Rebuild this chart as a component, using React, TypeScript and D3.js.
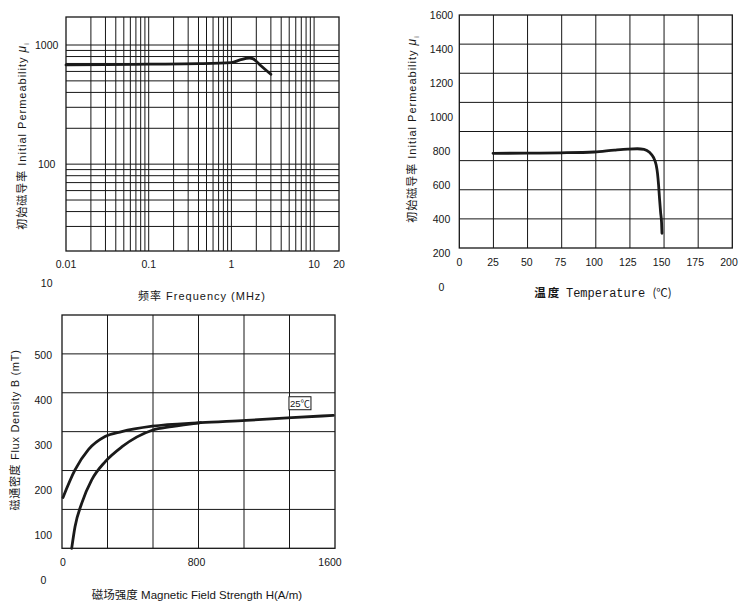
import { curveMonotoneX, line as d3Line, range, scaleLinear, scaleLog, select } from "d3";
import { useEffect, useRef } from "react";

// chart 1: initial permeability vs frequency
const freqMHz = [0.01, 0.03, 0.1, 0.4, 1.0, 1.27, 1.65, 1.84, 2.22, 3.0];
const freqPerm = [680, 684, 690, 697, 712, 749, 778, 765, 680, 568];
const freqTicks = [0.01, 0.1, 1, 10, 20];
const freqPermTicks = [10, 100, 1000];

// chart 2: initial permeability vs temperature
const tempC = [25, 50, 75, 100, 115, 125, 132, 137, 141, 144, 146, 147, 147.8, 148.5, 149.3, 150, 150.3];
const tempPerm = [789, 790, 792, 797, 808, 814, 816, 812, 795, 765, 720, 670, 600, 520, 440, 380, 318];
const tempTicks = [0, 25, 50, 75, 100, 125, 150, 175, 200];
const tempPermTicks = [0, 200, 400, 600, 800, 1000, 1200, 1400, 1600];

// chart 3: B-H curves at 25 C
const fieldUpper = [0, 72, 152, 252, 352, 535, 825, 1097, 1370, 1620];
const fluxUpper = [184, 245, 290, 319, 330, 342, 350, 355, 361, 366];
const fieldLower = [52, 72, 112, 172, 252, 352, 535, 651, 825];
const fluxLower = [71, 119, 171, 223, 263, 296, 333, 341, 350];
const fieldTicks = [0, 800, 1600];
const fluxTicks = [0, 100, 200, 300, 400, 500];

const TICK_FONT = "'Liberation Sans', Arial, sans-serif";
const TITLE_FONT = "'Liberation Sans', Arial, 'Noto Sans CJK SC', sans-serif";
const INK = "#161616";

export default function App() {
  const svgRef = useRef<SVGSVGElement | null>(null);

  useEffect(() => {
    if (!svgRef.current) return;
    const svg = select(svgRef.current);
    svg.selectAll("*").remove();
    svg.append("rect").attr("width", 743).attr("height", 611).attr("fill", "#fff");

    const gridLine = (x1: number, y1: number, x2: number, y2: number) =>
      svg
        .append("line")
        .attr("x1", x1)
        .attr("y1", y1)
        .attr("x2", x2)
        .attr("y2", y2)
        .attr("stroke", INK)
        .attr("stroke-width", 1);

    const frame = (x0: number, y0: number, x1: number, y1: number) =>
      svg
        .append("rect")
        .attr("x", x0)
        .attr("y", y0)
        .attr("width", x1 - x0)
        .attr("height", y1 - y0)
        .attr("fill", "none")
        .attr("stroke", INK)
        .attr("stroke-width", 1.3);

    const tickText = (x: number, y: number, label: string) =>
      svg
        .append("text")
        .attr("x", x)
        .attr("y", y)
        .attr("dy", "0.35em")
        .attr("text-anchor", "middle")
        .attr("font-family", TICK_FONT)
        .attr("font-size", 10.5)
        .attr("fill", INK)
        .text(label);

    const curve = (xs: number[], ys: number[], sx: (v: number) => number, sy: (v: number) => number) => {
      const pts = xs.map((x, i) => [sx(x), sy(ys[i])] as [number, number]);
      svg
        .append("path")
        .attr("d", d3Line().curve(curveMonotoneX)(pts))
        .attr("fill", "none")
        .attr("stroke", "#1a1a1a")
        .attr("stroke-width", 2.8)
        .attr("stroke-linecap", "round")
        .attr("stroke-linejoin", "round");
    };

    const yTitle = (cx: number, cy: number, spacing: number) =>
      svg
        .append("text")
        .attr("transform", `translate(${cx},${cy}) rotate(-90)`)
        .attr("text-anchor", "middle")
        .attr("dy", "0.35em")
        .attr("font-family", TITLE_FONT)
        .attr("font-size", 11)
        .attr("letter-spacing", spacing)
        .attr("fill", INK);

    // ---------- chart 1 ----------
    const x1 = scaleLog().domain([0.01, 20]).range([66, 339]);
    const y1 = scaleLog().domain([10, 1000]).range([283.3, 45]);
    const box1 = { left: 66, right: 339, top: 17, bottom: 251 };
    x1.ticks().forEach((v) => {
      const px = x1(v);
      if (px > box1.left + 0.5 && px < box1.right - 0.5) gridLine(px, box1.top, px, box1.bottom);
    });
    y1.ticks().forEach((v) => {
      const py = y1(v);
      if (py > box1.top + 6 && py < box1.bottom - 6) gridLine(box1.left, py, box1.right, py);
    });
    frame(box1.left, box1.top, box1.right, box1.bottom);
    freqTicks.forEach((v) => tickText(x1(v), 264, String(v)));
    freqPermTicks.forEach((v) => tickText(46.7, y1(v), String(v)));
    curve(freqMHz, freqPerm, x1, y1);

    const t1 = yTitle(22, 136, 1);
    t1.append("tspan").text("初始磁导率 Initial Permeability ");
    t1.append("tspan").attr("font-style", "italic").attr("font-size", 12).text("μ");
    t1.append("tspan").attr("font-size", 7).attr("dy", 3).text("i");

    svg
      .append("text")
      .attr("x", 202)
      .attr("y", 296)
      .attr("dy", "0.35em")
      .attr("text-anchor", "middle")
      .attr("font-family", TITLE_FONT)
      .attr("font-size", 11)
      .attr("letter-spacing", 1)
      .attr("fill", INK)
      .text("频率 Frequency (MHz)");

    // ---------- chart 2 ----------
    const x2 = scaleLinear().domain([0, 200]).range([459.3, 729]);
    const y2 = scaleLinear().domain([200, 1600]).range([253.3, 15.7]);
    const gx2 = scaleLinear().domain([0, 8]).range([459.3, 732.3]);
    const gy2 = scaleLinear().domain([0, 8]).range([248, 15]);
    range(1, 8).forEach((i) => {
      gridLine(gx2(i), gy2(8), gx2(i), gy2(0));
      gridLine(gx2(0), gy2(i), gx2(8), gy2(i));
    });
    frame(gx2(0), gy2(8), gx2(8), gy2(0));
    tempTicks.forEach((v) => tickText(x2(v), 262, String(v)));
    tempPermTicks.forEach((v) => tickText(441.5, y2(v), String(v)));
    curve(tempC, tempPerm, x2, y2);

    const t2 = yTitle(411.7, 129, 1);
    t2.append("tspan").text("初始磁导率 Initial Permeability ");
    t2.append("tspan").attr("font-style", "italic").attr("font-size", 12).text("μ");
    t2.append("tspan").attr("font-size", 7).attr("dy", 3).text("i");

    const xt2 = svg
      .append("text")
      .attr("x", 603)
      .attr("y", 293)
      .attr("dy", "0.35em")
      .attr("text-anchor", "middle")
      .attr("font-size", 11.5)
      .attr("fill", INK);
    xt2.append("tspan").attr("font-family", "'Noto Sans CJK SC', sans-serif").attr("font-weight", 700).attr("letter-spacing", 2).text("温度 ");
    xt2.append("tspan").attr("font-family", "'Liberation Mono', 'DejaVu Sans Mono', monospace").attr("font-size", 12).text("Temperature ");
    xt2.append("tspan").attr("font-family", "'Noto Sans CJK SC', sans-serif").text("(℃)");

    // ---------- chart 3 ----------
    const x3 = scaleLinear().domain([0, 1600]).range([63, 330]);
    const y3 = scaleLinear().domain([0, 500]).range([580.4, 355]);
    const gx3 = scaleLinear().domain([0, 6]).range([62, 335]);
    const gy3 = scaleLinear().domain([0, 6]).range([548.3, 315]);
    range(1, 6).forEach((i) => {
      gridLine(gx3(i), gy3(6), gx3(i), gy3(0));
      gridLine(gx3(0), gy3(i), gx3(6), gy3(i));
    });
    frame(gx3(0), gy3(6), gx3(6), gy3(0));
    fieldTicks.forEach((v) => tickText(x3(v), 562.3, String(v)));
    fluxTicks.forEach((v) => tickText(43.3, y3(v), String(v)));
    curve(fieldUpper, fluxUpper, x3, y3);
    curve(fieldLower, fluxLower, x3, y3);

    // temperature tag
    const tagX = x3(1420);
    const tagY = y3(393);
    svg
      .append("rect")
      .attr("x", tagX - 11)
      .attr("y", tagY - 6.5)
      .attr("width", 22)
      .attr("height", 13)
      .attr("fill", "#fff")
      .attr("stroke", INK)
      .attr("stroke-width", 1);
    svg
      .append("text")
      .attr("x", tagX)
      .attr("y", tagY)
      .attr("dy", "0.35em")
      .attr("text-anchor", "middle")
      .attr("font-family", TITLE_FONT)
      .attr("font-size", 9.5)
      .attr("fill", INK)
      .text("25℃");

    yTitle(15, 430, 0.7).text("磁通密度 Flux Density B (mT)");

    svg
      .append("text")
      .attr("x", 197)
      .attr("y", 595)
      .attr("dy", "0.35em")
      .attr("text-anchor", "middle")
      .attr("font-family", TITLE_FONT)
      .attr("font-size", 11.5)
      .attr("fill", INK)
      .text("磁场强度 Magnetic Field Strength H(A/m)");
  }, []);

  return (
    <svg
      ref={svgRef}
      width={743}
      height={611}
      style={{ position: "absolute", left: 0, top: 0 }}
      role="img"
      aria-label="Permeability and B-H characteristic charts"
    />
  );
}
